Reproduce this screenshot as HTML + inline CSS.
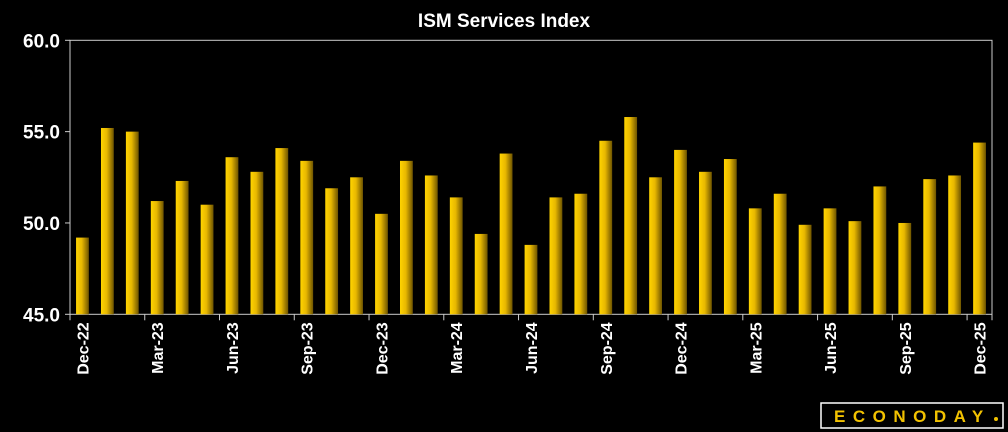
<!DOCTYPE html>
<html><head><meta charset="utf-8"><style>
html,body{margin:0;padding:0;background:#000;}
svg{display:block;font-family:"Liberation Sans",sans-serif;}
</style></head><body>
<svg width="1008" height="432" viewBox="0 0 1008 432">
<defs><linearGradient id="g" x1="0" x2="1" y1="0" y2="0">
<stop offset="0" stop-color="#ffd400"/><stop offset="0.45" stop-color="#e8b800"/><stop offset="1" stop-color="#6e5400"/></linearGradient></defs>
<text x="504" y="27" fill="#fff" font-size="19" font-weight="bold" text-anchor="middle">ISM Services Index</text>
<g id="plot"></g>
<g>
<rect x="821" y="403" width="182" height="25" fill="none" stroke="#fff" stroke-width="1.5"/>
<text x="834" y="422" fill="#f2c200" font-size="17" font-weight="bold" letter-spacing="7.5">ECONODAY</text>
<circle cx="996" cy="419" r="2" fill="#f2c200"/>
</g>
</svg>
<script>
const categories=["Dec-22","Jan-23","Feb-23","Mar-23","Apr-23","May-23","Jun-23","Jul-23","Aug-23","Sep-23","Oct-23","Nov-23","Dec-23","Jan-24","Feb-24","Mar-24","Apr-24","May-24","Jun-24","Jul-24","Aug-24","Sep-24","Oct-24","Nov-24","Dec-24","Jan-25","Feb-25","Mar-25","Apr-25","May-25","Jun-25","Jul-25","Aug-25","Sep-25","Oct-25","Nov-25","Dec-25"];
const values=[49.2,55.2,55.0,51.2,52.3,51.0,53.6,52.8,54.1,53.4,51.9,52.5,50.5,53.4,52.6,51.4,49.4,53.8,48.8,51.4,51.6,54.5,55.8,52.5,54.0,52.8,53.5,50.8,51.6,49.9,50.8,50.1,52.0,50.0,52.4,52.6,54.4];
const yTicks=[45,50,55,60];
const yTickLabels=["45.0","50.0","55.0","60.0"];
const NS="http://www.w3.org/2000/svg";
const L=70,R=992,T=40.3,B=314.3,ymin=45,ymax=60;
const step=(R-L)/categories.length;
const y=v=>B-(v-ymin)/(ymax-ymin)*(B-T);
const x=i=>L+step*i+step/2;
const g=document.getElementById('plot');
function mk(t,a){const e=document.createElementNS(NS,t);for(const k in a)e.setAttribute(k,a[k]);g.appendChild(e);return e;}
const frame=mk('rect',{x:L,y:T,width:R-L,height:B-T,fill:'none',stroke:'#ccc','stroke-width':1});


yTicks.forEach((t,i)=>{
  const tk=mk('line',{x1:L-5,x2:L,y1:y(t),y2:y(t),stroke:'#ccc'});
  
  
  const tx=mk('text',{x:L-10,y:y(t)+7,fill:'#fff','font-size':19,'font-weight':'bold','text-anchor':'end'});
  tx.textContent=yTickLabels[i];
  
  
});
values.forEach((v,i)=>{
  const bw=12.8;
  const r=mk('rect',{x:x(i)-bw/2,y:y(v),width:bw,height:B-y(v),fill:'url(#g)'});
  
  
  if(i%3===0){
    const tk=mk('line',{x1:L+step*i,x2:L+step*i,y1:B,y2:B+6,stroke:'#ccc'});
    
    
    const tx=mk('text',{x:0,y:0,fill:'#fff','font-size':16,'font-weight':'bold','text-anchor':'end',transform:`translate(${x(i)+6},${B+8}) rotate(-90)`});
    tx.textContent=categories[i];
    
    
  }
});
const lt=mk('line',{x1:R,x2:R,y1:B,y2:B+6,stroke:'#ccc'});
</script>
</body></html>
